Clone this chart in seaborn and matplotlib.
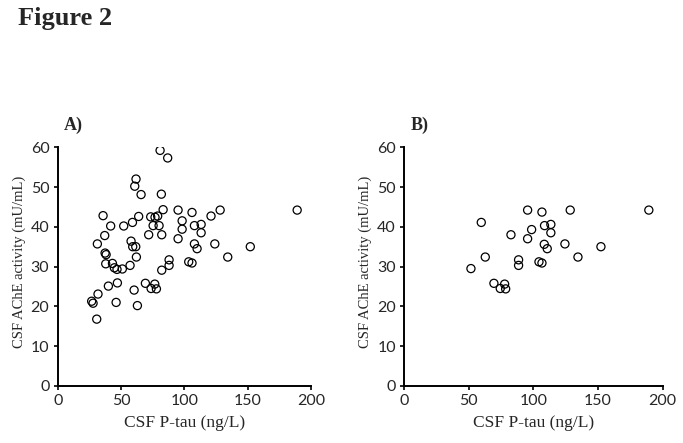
import matplotlib
matplotlib.use('Agg')
import matplotlib.pyplot as plt
import seaborn as sns
import pandas as pd

# Panel A: all subjects
ptau_a = [80.8, 86.8, 61.8, 60.8, 65.8, 81.8, 35.8, 63.9, 83.2, 95.0, 106.0, 128.2, 189.0,
          121.0, 41.8, 52.1, 59.0, 73.4, 76.8, 78.9, 75.3, 80.0, 71.8, 82.1, 98.2, 98.2,
          95.0, 107.9, 113.2, 113.2, 37.1, 31.3, 57.9, 59.2, 61.6, 62.1, 37.4, 38.2, 107.9,
          110.0, 124.0, 152.0, 134.2, 37.9, 43.2, 44.7, 46.8, 51.0, 57.1, 87.9, 87.9, 82.1,
          103.4, 106.0, 40.0, 47.1, 69.2, 76.6, 73.7, 77.9, 60.3, 26.8, 27.9, 31.8, 46.1,
          62.9, 30.8]
ache_a = [59.2, 57.3, 52.0, 50.2, 48.1, 48.2, 42.8, 42.6, 44.3, 44.2, 43.6, 44.2, 44.2,
          42.7, 40.2, 40.2, 41.1, 42.5, 42.4, 42.7, 40.3, 40.3, 38.0, 38.0, 41.5, 39.4,
          37.0, 40.3, 40.6, 38.5, 37.8, 35.7, 36.4, 35.0, 35.0, 32.4, 33.4, 33.0, 35.7,
          34.5, 35.7, 35.0, 32.4, 30.7, 30.8, 29.7, 29.3, 29.4, 30.3, 31.7, 30.3, 29.1,
          31.2, 30.9, 25.1, 25.9, 25.8, 25.6, 24.5, 24.4, 24.1, 21.3, 20.8, 23.1, 21.0,
          20.2, 16.8]

# Panel B: subgroup
ptau_b = [95.5, 106.6, 128.5, 189.4, 59.6, 108.6, 113.5, 98.6, 113.5, 82.6, 95.5, 108.4,
          110.7, 124.4, 152.3, 62.7, 134.5, 88.5, 88.5, 104.3, 106.6, 51.6, 69.4, 77.7,
          74.3, 78.5]
ache_b = [44.2, 43.7, 44.2, 44.2, 41.1, 40.3, 40.6, 39.3, 38.5, 38.0, 37.0, 35.6,
          34.5, 35.7, 35.0, 32.4, 32.4, 31.7, 30.3, 31.2, 30.9, 29.5, 25.8, 25.6,
          24.5, 24.4]

x_ticks = [0, 50, 100, 150, 200]
y_ticks = [0, 10, 20, 30, 40, 50, 60]

sns.set_style('white')
plt.rcParams['font.family'] = ['Liberation Serif', 'DejaVu Serif']

fig = plt.figure(figsize=(6.83, 4.43), dpi=100)
fig.text(0.026, 0.958, 'Figure 2', fontsize=19, fontweight='bold', va='center', ha='left')

panels = [
    ('A)', ptau_a, ache_a, [0.0845, 0.1287, 0.371, 0.539]),
    ('B)', ptau_b, ache_b, [0.592, 0.1287, 0.378, 0.539]),
]

for label, xs, ys, rect in panels:
    ax = fig.add_axes(rect)
    df = pd.DataFrame({'ptau': xs, 'ache': ys})
    sns.scatterplot(data=df, x='ptau', y='ache', ax=ax, s=34, marker='o',
                    facecolor='none', edgecolor='black', linewidth=0.9)
    ax.set_xlim(0, 200)
    ax.set_ylim(0, 60)
    ax.set_xticks(x_ticks)
    ax.set_yticks(y_ticks)
    for t in ax.get_xticklabels() + ax.get_yticklabels():
        t.set_fontfamily('Lato')
        t.set_fontsize(11.5)
    ax.tick_params(axis='both', direction='out', length=3, width=1.2, color='black',
                   left=True, bottom=True, pad=3)
    sns.despine(ax=ax)
    for side in ['left', 'bottom']:
        ax.spines[side].set_color('black')
        ax.spines[side].set_linewidth(1.4)
    ax.set_xlabel('CSF P-tau (ng/L)', fontsize=12.5, labelpad=5)
    ax.set_ylabel('CSF AChE activity (mU/mL)', fontsize=10.5, labelpad=6)
    ax.yaxis.set_label_coords(-0.126, 0.52)
    ax.text(0.025, 1.09, label, transform=ax.transAxes, fontsize=13,
            fontweight='bold', ha='left', va='center')

fig.savefig('out.png', dpi=100)
